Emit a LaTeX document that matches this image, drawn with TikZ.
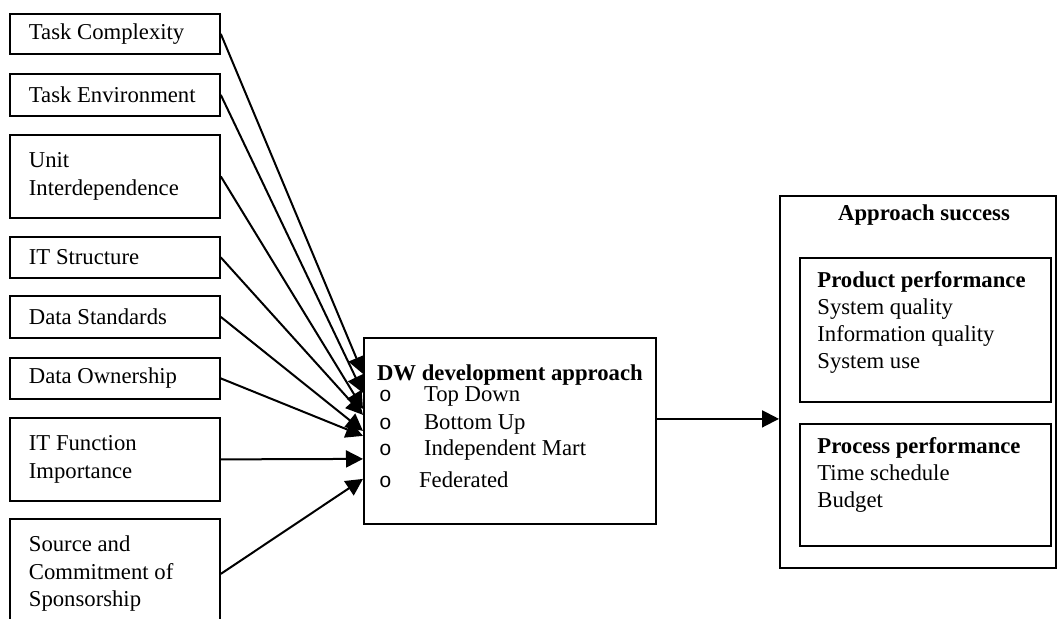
\documentclass[tikz,border=0pt]{standalone}
\usepackage{fontspec}
\setmainfont{Liberation Serif}
\newfontfamily\bulletfont{Liberation Mono}
\usetikzlibrary{arrows.meta, positioning}

\newcommand{\dwitem}[2]{\hspace*{1pt}\makebox[#1][l]{\bulletfont\fontsize{10.5}{10.5}\selectfont o}#2}

\begin{document}
\begin{tikzpicture}[
    x=0.5pt, y=-0.5pt,
    factor/.style={rectangle, draw=black, line width=0.9pt, anchor=north west, minimum width=104.5pt, text width=86pt, inner xsep=9.5pt, inner ysep=2pt, align=flush left, font=\fontsize{11.35}{13.75}\selectfont},
    approach/.style={rectangle, draw=black, line width=0.9pt, anchor=north west, minimum width=146pt, minimum height=93pt, align=left, font=\fontsize{11.35}{13.75}\selectfont},
    outcome/.style={rectangle, draw=black, line width=0.9pt, anchor=north west, minimum width=#1, inner sep=0pt},
    listtext/.style={anchor=north west, inner sep=0pt, align=left, font=\fontsize{11.35}{13.5}\selectfont},
    arr/.style={-{Triangle[length=8.5pt, width=8.5pt]}, line width=1pt}
]
\useasboundingbox (0,0) rectangle (1057,619);
\clip (0,0) rectangle (1057,619);

% Factors
\node[factor, minimum height=20pt] (tcomp) at (9,13) {Task Complexity};
\node[factor, minimum height=21pt] (tenv) at (9,73) {Task Environment};
\node[factor, minimum height=41.5pt] (unit) at (9,134) {Unit\\Interdependence};
\node[factor, minimum height=20.5pt] (itstruct) at (9,236) {IT Structure};
\node[factor, minimum height=21pt] (dstd) at (9,295) {Data Standards};
\node[factor, minimum height=20.5pt] (down) at (9,357) {Data Ownership};
\node[factor, minimum height=41.5pt] (itfunc) at (9,417) {IT Function\\Importance};
\node[factor, minimum height=55pt] (sponsor) at (9,518) {Source and\\Commitment of\\Sponsorship};

% DW approach
\node[approach] (dw) at (363,337) {\textbf{DW development approach}\\[-3.25pt]
    \dwitem{22.5pt}{Top Down}\\[0.25pt]
    \dwitem{22.5pt}{Bottom Up}\\[-0.75pt]
    \dwitem{22.5pt}{Independent Mart}\\[2.25pt]
    \dwitem{20pt}{Federated}\\[-9pt]\mbox{}};

% Success
\node[outcome=138pt, minimum height=186pt] (succ) at (779,195) {};
\node[font=\fontsize{11.35}{13.75}\selectfont\bfseries] (succtitle) at (924,215) {Approach success};
\node[outcome=125.5pt, minimum height=72pt] (prod) at (799,257) {};
\node[listtext] (prodtext) at ([xshift=9pt, yshift=-7pt]prod.north west) {\textbf{Product performance}\\System quality\\Information quality\\System use};
\node[outcome=125.5pt, minimum height=61pt] (proc) at (799,423) {};
\node[listtext] (proctext) at ([xshift=9pt, yshift=-7pt]proc.north west) {\textbf{Process performance}\\Time schedule\\Budget};

% Arrows
\draw[arr] (tcomp.east) -- ([yshift=28.5pt]dw.west);
\draw[arr] (tenv.east) -- ([yshift=19pt]dw.west);
\draw[arr] (unit.east) -- ([yshift=11pt]dw.west);
\draw[arr] (itstruct.east) -- ([yshift=8pt]dw.west);
\draw[arr] (dstd.east) -- ([yshift=0pt]dw.west);
\draw[arr] (down.east) -- ([yshift=-2.5pt]dw.west);
\draw[arr] (itfunc.east) -- ([yshift=-14pt]dw.west);
\draw[arr] (sponsor.east) -- ([yshift=-24pt]dw.west);
\draw[arr] ([yshift=6pt]dw.east) -- ([yshift=6pt]dw.east -| succ.west);

\end{tikzpicture}
\end{document}
